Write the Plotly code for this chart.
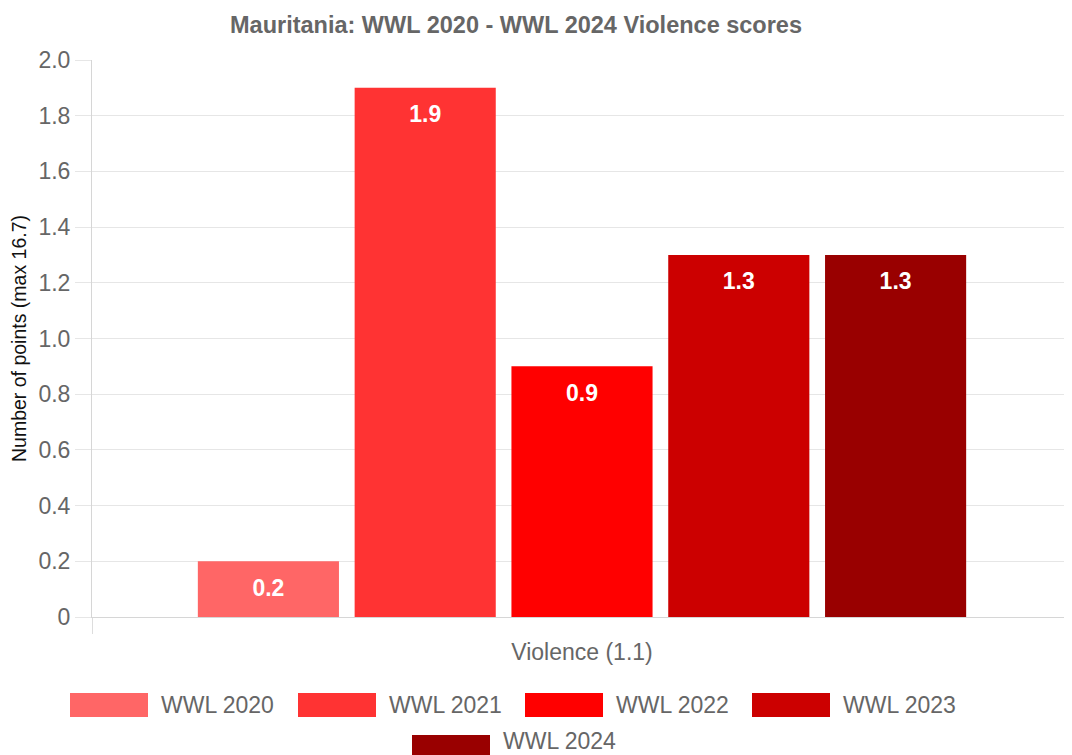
import plotly.graph_objects as go

# ---- data ----
category = ["Violence (1.1)"]
series_names = ["WWL 2020", "WWL 2021", "WWL 2022", "WWL 2023", "WWL 2024"]
series_values = [0.2, 1.9, 0.9, 1.3, 1.3]
series_colors = ["#ff6666", "#ff3333", "#ff0000", "#cc0000", "#990000"]
y_tick_vals = [0, 0.2, 0.4, 0.6, 0.8, 1.0, 1.2, 1.4, 1.6, 1.8, 2.0]
y_tick_text = ["0", "0.2", "0.4", "0.6", "0.8", "1.0", "1.2", "1.4", "1.6", "1.8", "2.0"]
title_text = "Mauritania: WWL 2020 - WWL 2024 Violence scores"
y_title = "Number of points (max 16.7)"

# ---- layout constants (pixels, reference-page coordinates) ----
OFF = 8                      # default page body margin
W, H = 1072 - OFF, 755 - OFF  # figure size so it fits the window
PLOT_L, PLOT_R, PLOT_T, PLOT_B = 92, 1072, 60, 617   # plot area in page px
L = PLOT_L - OFF
T = PLOT_T - OFF
R = (OFF + W) - PLOT_R
B = (OFF + H) - PLOT_B
PW, PH = PLOT_R - PLOT_L, PLOT_B - PLOT_T
FONT = "Liberation Sans, Arial, Helvetica, sans-serif"
GREY = "#666666"

def px_x(px):
    return (px - PLOT_L) / PW

def px_y(py):
    return (PLOT_B - py) / PH

fig = go.Figure()

for i, (name, val, col) in enumerate(zip(series_names, series_values, series_colors)):
    fig.add_trace(go.Bar(
        x=category, y=[val], name=name, offsetgroup=f"g{i}",
        marker=dict(color=col, line=dict(width=0)),
        showlegend=False, hoverinfo="name+y",
    ))

for i, (name, val) in enumerate(zip(series_names, series_values)):
    fig.add_trace(go.Scatter(
        x=category, y=[val], mode="markers+text", offsetgroup=f"g{i}",
        text=[f"{val:g}"], textposition="bottom center",
        textfont=dict(family=FONT, size=23, color="white", weight="bold"),
        marker=dict(size=26, color="rgba(0,0,0,0)"),
        showlegend=False, hoverinfo="skip", cliponaxis=False,
    ))

# custom legend (wide colour boxes as in the reference)
legend_rect_x = [70, 298, 525, 752, 412]
legend_rect_y = [693, 693, 693, 693, 735]
legend_text_y = [705, 705, 705, 705, 741]
box_w, box_h, text_gap = 78, 24, 11
for name, col, rx, ry, ty in zip(series_names, series_colors, legend_rect_x,
                                 legend_rect_y, legend_text_y):
    fig.add_shape(type="rect", xref="paper", yref="paper",
                  x0=px_x(rx), x1=px_x(rx + box_w),
                  y0=px_y(ry), y1=px_y(ry + box_h),
                  fillcolor=col, line=dict(width=0), layer="above")
    fig.add_annotation(xref="paper", yref="paper",
                       x=px_x(rx + box_w + text_gap), y=px_y(ty),
                       xanchor="left", yanchor="middle", showarrow=False,
                       text=name, font=dict(family=FONT, size=23, color=GREY))

fig.update_layout(
    width=W, height=H, autosize=False,
    margin=dict(l=L, r=R, t=T, b=B, pad=0),
    paper_bgcolor="white", plot_bgcolor="white",
    font=dict(family=FONT, size=23, color=GREY),
    title=dict(text=title_text, x=(516 - OFF) / W, xref="container", xanchor="center",
               y=1 - (25 - OFF) / H, yref="container", yanchor="middle",
               font=dict(family=FONT, size=23.5, color=GREY, weight="bold")),
    barmode="group", bargap=0.2, bargroupgap=0.1,
    scattermode="group", scattergap=0.2,
    xaxis=dict(type="category", range=[-0.5, 0.5], tickson="boundaries",
               ticks="outside", ticklen=16, tickcolor="#dddddd", tickwidth=1,
               ticklabelstandoff=14,
               showgrid=True, gridcolor="#e6e6e6", gridwidth=1,
               showline=True, linecolor="#d6d6d6", linewidth=1,
               tickfont=dict(family=FONT, size=23, color=GREY),
               zeroline=False, fixedrange=True),
    yaxis=dict(range=[0, 2.0], tickvals=y_tick_vals, ticktext=y_tick_text,
               ticks="outside", ticklen=16, tickcolor="#e6e6e6", tickwidth=1,
               showgrid=True, gridcolor="#e6e6e6", gridwidth=1,
               showline=True, linecolor="#d6d6d6", linewidth=1,
               zeroline=False,
               tickfont=dict(family=FONT, size=23, color=GREY),
               title=dict(text=y_title, font=dict(family=FONT, size=19.5, color="#111111"),
                          standoff=8),
               fixedrange=True),
)

fig.write_html("out.html")
